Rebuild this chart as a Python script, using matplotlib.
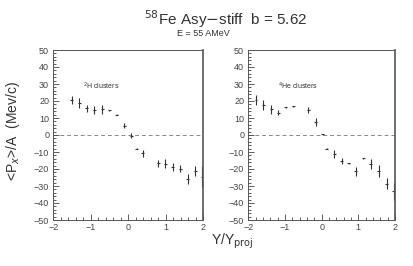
import numpy as np
import matplotlib.pyplot as plt
from matplotlib.ticker import MultipleLocator

# ---------------------------
# data
# ---------------------------
# left panel: 2H clusters
h2_x = [-1.51, -1.31, -1.11, -0.91, -0.69, -0.51, -0.31, -0.11, 0.08,
        0.22, 0.38, 0.80, 0.99, 1.18, 1.39, 1.58, 1.78, 1.97]
h2_y = [20.6, 18.8, 15.7, 14.5, 15.1, 14.7, 11.8, 5.4, -0.3,
        -8.1, -10.8, -16.6, -16.8, -18.8, -19.9, -25.8, -21.0, -24.5]
h2_err = [2.5, 2.8, 2.0, 2.3, 2.5, 0.3, 0.3, 1.5, 1.5,
          0.3, 2.0, 2.0, 2.5, 2.2, 2.0, 3.0, 3.0, 6.0]

# right panel: 4He clusters
he4_x = [-1.79, -1.59, -1.38, -1.18, -0.98, -0.77, -0.36, -0.16, 0.03,
         0.14, 0.34, 0.55, 0.74, 0.93, 1.13, 1.34, 1.56, 1.77, 1.97]
he4_y = [20.6, 17.6, 15.1, 13.1, 16.3, 17.0, 14.7, 7.7, 0.4,
         -8.0, -11.3, -15.3, -16.7, -21.4, -13.7, -17.2, -21.2, -28.7, -33.0]
he4_err = [3.0, 3.0, 2.5, 1.5, 0.3, 0.3, 2.0, 2.2, 0.3,
           0.3, 2.5, 2.0, 0.5, 2.5, 0.3, 3.0, 3.5, 3.2, 5.0]

panel_labels = ["$^{2}$H clusters", "$^{4}$He clusters"]

# ---------------------------
# figure
# ---------------------------
plt.rcParams['font.family'] = ['Liberation Sans', 'DejaVu Sans']
W, H = 413, 266
fig = plt.figure(figsize=(W / 100, H / 100), dpi=100)

def make_axes(x0, x1, y0, y1):
    return fig.add_axes([x0 / W, 1 - y1 / H, (x1 - x0) / W, (y1 - y0) / H])

ax_l = make_axes(53.3, 203.3, 50, 220)
ax_r = make_axes(248.3, 395, 50, 220)

for ax, xs, ys, es, lab in [(ax_l, h2_x, h2_y, h2_err, panel_labels[0]),
                            (ax_r, he4_x, he4_y, he4_err, panel_labels[1])]:
    ax.axhline(0, color='#888888', lw=0.7, ls=(0, (4, 3)), zorder=1)
    ax.errorbar(xs, ys, yerr=es, xerr=0.04, fmt='none', ecolor='#333333',
                elinewidth=0.8, capsize=0, zorder=2)
    ax.set_xlim(-2, 2)
    ax.set_ylim(-50, 50)
    ax.xaxis.set_major_locator(MultipleLocator(1))
    ax.xaxis.set_minor_locator(MultipleLocator(0.2))
    ax.yaxis.set_major_locator(MultipleLocator(10))
    ax.yaxis.set_minor_locator(MultipleLocator(2))
    ax.tick_params(which='both', direction='in', top=False, right=False,
                   colors='#444444', labelsize=6.5, width=0.6)
    ax.tick_params(which='major', length=4, pad=3)
    ax.tick_params(which='minor', length=2)
    ax.tick_params(axis='x', pad=2)
    for s in ax.spines.values():
        s.set_color('#555555')
        s.set_linewidth(0.7)
    ax.spines['right'].set_linewidth(1.2)
    ax.text(0.2, 0.77, lab, transform=ax.transAxes, fontsize=5, color='#333333')

fig.text(226 / W, 1 - 25 / H, "$^{58}$Fe Asy$-$stiff  b = 5.62", ha='center',
         va='baseline', fontsize=11, color='#333333')
fig.text(203 / W, 1 - 36 / H, "E = 55 AMeV", ha='center', va='baseline',
         fontsize=6.5, color='#333333')
fig.text(13 / W, 1 - 131 / H, "<P$_{x}$>/A  (Mev/c)", rotation=90, ha='center',
         va='center', fontsize=10, color='#333333')
fig.text(232 / W, 1 - 241 / H, "Y/Y$_{\\mathrm{proj}}$", ha='center', va='center',
         fontsize=10, color='#333333')

fig.savefig("out.png", dpi=100)
